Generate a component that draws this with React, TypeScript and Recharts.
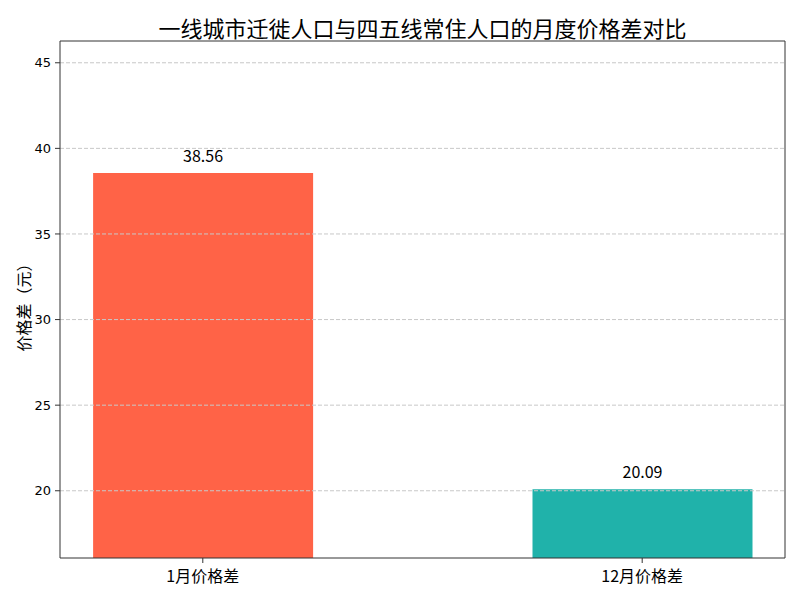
import React from "react"
import {
  BarChart,
  Bar,
  Cell,
  XAxis,
  YAxis,
  ReferenceLine,
  LabelList,
} from "recharts"

const categories = ["1月价格差", "12月价格差"]
const priceGaps = [38.56, 20.09]
const barColors = ["#FF6347", "#20B2AA"]
const yTicks = [20, 25, 30, 35, 40, 45]
const yDomain = [16.072, 46.272]
const xDomain = [-0.325, 1.325]
const title = "一线城市迁徙人口与四五线常住人口的月度价格差对比"
const yLabel = "价格差（元）"

const data = categories.map((name, i) => ({ pos: i, name, value: priceGaps[i] }))

const CJK = '"Noto Sans CJK SC", "DejaVu Sans", sans-serif'
const NUM = '"DejaVu Sans", sans-serif'

// rotated y axis title, placed in the left gutter
const YTitle = (props: any) => {
  const vb = props.viewBox || {}
  const cx = 23
  const cy = (vb.y ?? 41) + (vb.height ?? 517) / 2 + 4
  return (
    <text
      x={cx}
      y={cy}
      transform={`rotate(-90, ${cx}, ${cy})`}
      textAnchor="middle"
      dominantBaseline="central"
      fontFamily={CJK}
      fontSize={16}
      fill="#000"
    >
      {yLabel}
    </text>
  )
}

export default function App() {
  return (
    <div style={{ position: "absolute", left: 0, top: 0, width: 800, height: 600, background: "#fff" }}>
      <div
        style={{
          position: "absolute",
          left: 60,
          width: 725,
          top: 15,
          lineHeight: "24px",
          textAlign: "center",
          fontFamily: CJK,
          fontSize: "22px",
          color: "#000",
        }}
      >
        {title}
      </div>
      <BarChart
        width={800}
        height={600}
        data={data}
        margin={{ top: 41, right: 15, bottom: 0, left: 0 }}
        style={{ position: "absolute", left: 0, top: 0 }}
      >
        <XAxis
          dataKey="pos"
          type="number"
          domain={xDomain}
          ticks={[0, 1]}
          tickFormatter={(v: number) => categories[v] ?? ""}
          height={42}
          tickSize={5}
          tickMargin={8}
          stroke="#333"
          tick={{ fill: "#000", fontSize: 16, fontFamily: CJK }}
          allowDataOverflow
        />
        <YAxis
          domain={yDomain}
          ticks={yTicks}
          type="number"
          allowDataOverflow
          width={60}
          tickSize={5}
          tickMargin={4}
          stroke="#333"
          tick={{ fill: "#000", fontSize: 13, fontFamily: NUM }}
          label={{ content: YTitle }}
        />
        <Bar dataKey="value" barSize={220} isAnimationActive={false}>
          {data.map((_, i) => (
            <Cell key={`cell-${i}`} fill={barColors[i]} />
          ))}
          <LabelList
            dataKey="value"
            position="top"
            offset={11}
            formatter={(v: number) => Number(v).toFixed(2)}
            fontSize={16}
            fontFamily={CJK}
            fill="#000"
          />
        </Bar>
        {yTicks.map((t) => (
          <ReferenceLine key={t} y={t} stroke="#c8c8c8" strokeDasharray="4 2" strokeWidth={1} />
        ))}
        <ReferenceLine y={yDomain[1]} stroke="#333" strokeWidth={1} />
        <ReferenceLine x={xDomain[1]} stroke="#333" strokeWidth={1} />
      </BarChart>
    </div>
  )
}
